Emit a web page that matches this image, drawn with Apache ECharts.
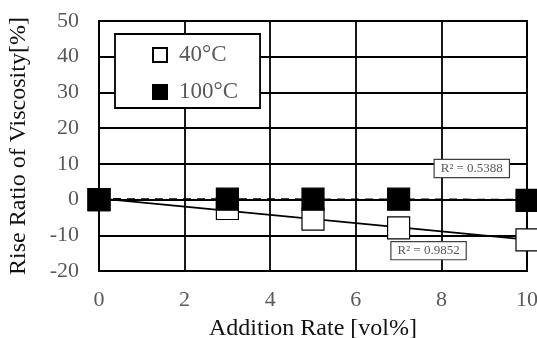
<!DOCTYPE html>
<html>
<head>
<meta charset="utf-8">
<script src="https://cdn.jsdelivr.net/npm/echarts@6/dist/echarts.min.js"></script>
<style>html,body{margin:0;padding:0;background:#fff}#main{width:537px;height:338px}</style>
</head>
<body>
<div id="main"></div>
<script>
var rates = [0, 3, 5, 7, 10];
var visc40 = [0, -2.5, -5.5, -7.9, -11.3];
var visc100 = [0, 0.1, 0.1, 0.1, -0.2];
var r2Labels = ["R\u00b2 = 0.5388", "R\u00b2 = 0.9852"];

// least squares fit, used for the trend lines
function fit(xs, ys) {
	var n = xs.length, mx = 0, my = 0, sxy = 0, sxx = 0;
	for (var i = 0; i < n; i++) { mx += xs[i] / n; my += ys[i] / n; }
	for (var i = 0; i < n; i++) { sxy += (xs[i] - mx) * (ys[i] - my); sxx += (xs[i] - mx) * (xs[i] - mx); }
	var b = sxy / sxx, a = my - b * mx;
	return [[0, a], [10, a + b * 10]];
}
function pairs(xs, ys) { return xs.map(function (x, i) { return [x, ys[i]]; }); }

var font = "Liberation Serif";
var lbl = {
	show: true, color: "#595959", fontFamily: font, fontSize: 13,
	backgroundColor: "#fff", borderColor: "#404040", borderWidth: 1.2, padding: [2, 6]
};

var chart = echarts.init(document.getElementById("main"));
chart.setOption({
	animation: false,
	grid: { left: 99, right: 10, top: 21, bottom: 67, outerBoundsMode: "none", containLabel: false,
		show: true, borderColor: "#000", borderWidth: 2 },
	legend: {
		orient: "vertical", left: 115, top: 34, padding: [9, 22, 4, 37], itemGap: 13,
		itemWidth: 14, itemHeight: 14,
		backgroundColor: "#fff", borderColor: "#000", borderWidth: 1.8,
		textStyle: { fontFamily: font, fontSize: 23, color: "#595959", lineHeight: 24, padding: [0, 0, 0, 7] },
		data: [{ name: "40°C", icon: "rect" }, { name: "100°C", icon: "rect" }]
	},
	xAxis: {
		type: "value", min: 0, max: 10, interval: 2,
		name: "Addition Rate [vol%]", nameLocation: "middle", nameGap: 46,
		nameTextStyle: { fontFamily: font, fontSize: 24, color: "#111" },
		axisLine: { show: false }, axisTick: { show: false },
		axisLabel: { fontFamily: font, fontSize: 22, color: "#595959", margin: 18 },
		splitLine: { lineStyle: { color: "#000", width: 1.8 } }
	},
	yAxis: {
		type: "value", min: -20, max: 50, interval: 10,
		name: "Rise Ratio of Viscosity[%]", nameLocation: "middle", nameGap: 68,
		nameTextStyle: { fontFamily: font, fontSize: 24, color: "#111" },
		axisLine: { show: false }, axisTick: { show: false },
		axisLabel: { fontFamily: font, fontSize: 22, color: "#595959", margin: 20 },
		splitLine: { lineStyle: { color: "#000", width: 1.8 } }
	},
	series: [
		{
			type: "line", name: "fit40", data: fit(rates, visc40), symbol: "none", silent: true,
			lineStyle: { color: "#000", width: 1.8 }, z: 2,
			markPoint: { symbol: "rect", symbolSize: 0, data: [{ coord: [7.7, -14.3], value: r2Labels[1] }],
				label: Object.assign({ formatter: "{c}" }, lbl) }
		},
		{
			type: "line", name: "fit100", data: fit(rates, visc100), symbol: "none", silent: true,
			lineStyle: { color: "#000", width: 2.2, type: [8, 6] }, z: 2,
			markPoint: { symbol: "rect", symbolSize: 0, data: [{ coord: [8.71, 8.7], value: r2Labels[0] }],
				label: Object.assign({ formatter: "{c}" }, lbl) }
		},
		{
			type: "scatter", name: "40°C", data: pairs(rates, visc40), symbol: "rect", symbolSize: 22,
			itemStyle: { color: "#fff", borderColor: "#000", borderWidth: 1.2, opacity: 1 }, z: 3
		},
		{
			type: "scatter", name: "100°C", data: pairs(rates, visc100), symbol: "rect", symbolSize: 22,
			itemStyle: { color: "#000", borderColor: "#000", borderWidth: 1.2, opacity: 1 }, z: 4
		}
	]
});
window.addEventListener("resize", chart.resize);
</script>
</body>
</html>
